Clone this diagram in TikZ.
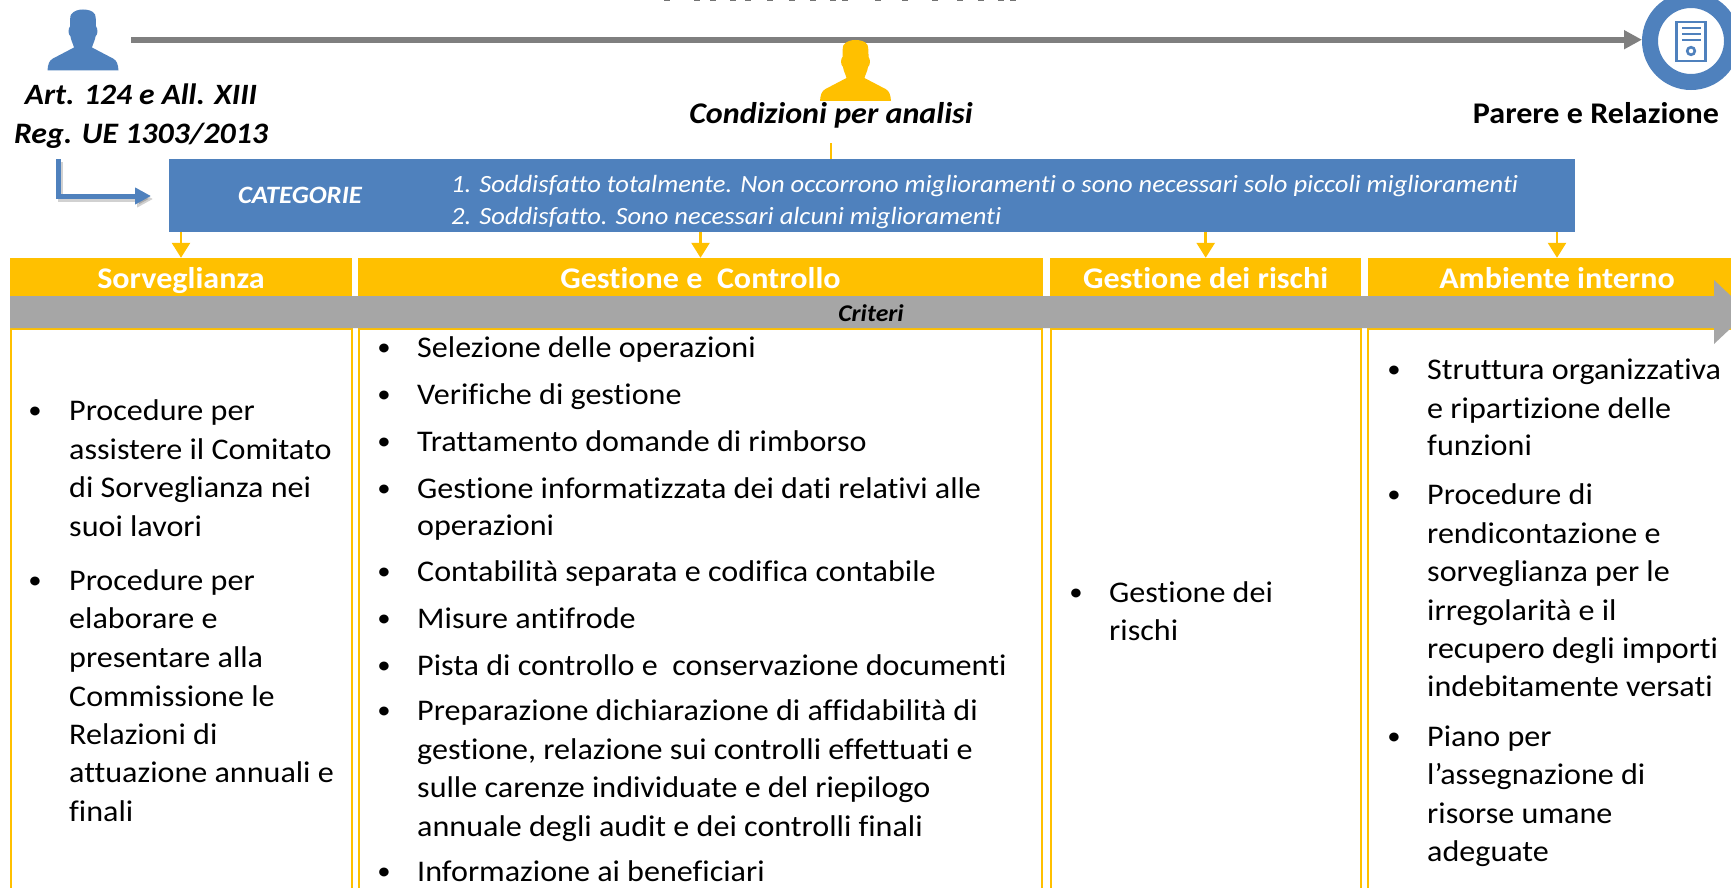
\documentclass[tikz,border=0pt]{standalone}
\usepackage{fontspec}
\setmainfont{Carlito}[FakeStretch=1.07,Ligatures=NoCommon]
\usetikzlibrary{arrows.meta,calc}
\definecolor{bluefill}{HTML}{4F81BD}
\definecolor{orangefill}{HTML}{FFC000}
\definecolor{barfill}{HTML}{A6A6A6}
\definecolor{linegray}{HTML}{7F7F7F}
\newcommand{\bodysize}{\fontsize{30}{36}\selectfont}
\tikzset{
  x=1pt,y=-1pt,
  headbox/.style={fill=orangefill,inner sep=0pt,minimum height=38pt,text height=29pt,text depth=7pt,text=white,font=\fontsize{30}{34}\selectfont\bfseries},
  columnline/.style={draw=orangefill,line width=2pt},
  bodytext/.style={anchor=base west,inner sep=0pt,font=\bodysize,text=black},
  bullettext/.style={anchor=base,inner sep=0pt,font=\fontsize{25}{28}\selectfont,text=black,yshift=2pt},
  toplabel/.style={anchor=base,inner sep=0pt,font=\fontsize{30}{34}\selectfont\bfseries\itshape,text=black},
  feed/.style={draw=orangefill,line width=2.6pt,-{Triangle[length=15pt,width=18pt]}},
  person/.pic={
    \fill[pic actions] (-35.5,61) .. controls (-35,55) and (-34,51) .. (-30,49)
      -- (-9,38) .. controls (-10,34) and (-12,31) .. (-12.5,27)
      .. controls (-15,25) and (-15,19) .. (-13,17)
      .. controls (-13,12) and (-13,7) .. (-12,5)
      .. controls (-9,1) and (-4,0) .. (0,0)
      .. controls (4,0) and (10,1) .. (12,5)
      .. controls (13,8) and (13,12) .. (13,17)
      .. controls (15,19) and (15,25) .. (12.5,27)
      .. controls (12,31) and (10,34) .. (9,38)
      -- (30,49) .. controls (34,51) and (35,55) .. (35.5,61) -- cycle;
  }
}
\begin{document}
\begin{tikzpicture}
\clip (0,0) rectangle (1731,888);
\fill[white] (0,0) rectangle (1731,888);
% clipped remains of the title
\foreach \tx in {667,697,713,733,748,770,792,813,833,845,878,905,935,960,981,1001,1013}
  \fill[black!55] (\tx-3,0) rectangle (\tx+3,1.2);
% column frames
\draw[columnline] (11,328.5) rectangle (352,900);
\draw[columnline] (359,328.5) rectangle (1042,900);
\draw[columnline] (1051,328.5) rectangle (1360.5,900);
\draw[columnline] (1368,328.5) rectangle (1760,900);
% headers
\node[headbox,minimum width=342pt] (h1) at (181,277) {Sorveglianza};
\node[headbox,minimum width=685pt] (h2) at (700.5,277) {Gestione e\ \ Controllo};
\node[headbox,minimum width=311.5pt] (h3) at (1205.7,277) {Gestione dei rischi};
\node[headbox,minimum width=379pt] (h4) at (1557,277) {Ambiente interno};
% criteri arrow
\fill[barfill] (10,296) -- (1714,296) -- (1714,280) -- (1748,312) -- (1714,344) -- (1714,328) -- (10,328) -- cycle;
\node[anchor=base,inner sep=0pt,font=\fontsize{24}{28}\selectfont\bfseries\itshape] (crit) at (871,321) {Criteri};
% category box
\node[fill=bluefill,inner sep=0pt,minimum width=1406pt,minimum height=73pt] (cat) at (872,195.5) {};
\node[anchor=base,inner sep=0pt,text=white,font=\fontsize{25}{28}\selectfont\bfseries\itshape] (catlabel) at (300,203) {CATEGORIE};
\node[anchor=base west,inner sep=0pt,text=white,font=\fontsize{24.8}{28}\selectfont\itshape] (cat1) at (451,192) {1. Soddisfatto totalmente. Non occorrono miglioramenti o sono necessari solo piccoli miglioramenti};
\node[anchor=base west,inner sep=0pt,text=white,font=\fontsize{24.8}{28}\selectfont\itshape] (cat2) at (451,224) {2. Soddisfatto. Sono necessari alcuni miglioramenti};
% feed arrows
\draw[feed] (cat.south -| h1.north) -- (h1.north);
\draw[feed] (cat.south -| h2.north) -- (h2.north);
\draw[feed] (cat.south -| h3.north) -- (h3.north);
\draw[feed] (cat.south -| h4.north) -- (h4.north);
\coordinate (stub) at (831,143);
\draw[draw=orangefill,line width=2.4pt] (stub) -- (stub |- cat.north);
% persons and top line
\coordinate (gstart) at (131,39.7);
\node[circle,draw=bluefill,line width=16pt,fill=white,inner sep=0pt,minimum size=82pt] (doc) at (1691,41) {};
\draw[draw=linegray,line width=6pt,-{Triangle[length=18pt,width=18pt]}] (gstart) -- (gstart -| doc.west);
\pic[fill=bluefill] at (83,9.5) {person};
\pic[fill=orangefill] at (855.5,40) {person};
% document icon
\draw[draw=bluefill,line width=2.6pt] (1676.5,22) rectangle (1705.5,61);
\foreach \ly in {28,34,40}
  \draw[draw=bluefill,line width=2pt] (1682,\ly) -- (1701,\ly);
\draw[draw=bluefill,line width=2.6pt] (1691,51) circle (3.8);
% top labels
\node[toplabel,font=\fontsize{29.5}{34}\selectfont\bfseries\itshape] (art) at (141,105) {Art. 124 e All. XIII};
\node[toplabel,font=\fontsize{29.7}{34}\selectfont\bfseries\itshape] (reg) at (141,143) {Reg. UE 1303/2013};
\node[toplabel] (cond) at (831,124) {Condizioni per analisi};
\node[toplabel,font=\fontsize{30}{34}\selectfont\bfseries] (par) at (1596,124) {Parere e Relazione};
% elbow arrow
\coordinate (ea) at (58,159);
\coordinate (eb) at (58,196);
\coordinate (ec) at (151,196);
\draw[draw=black,opacity=.18,line width=5pt,-{Triangle[length=16pt,width=16pt]}] ($(ea)+(2,3)$) -- ($(eb)+(2,3)$) -- ($(ec)+(2,3)$);
\draw[draw=bluefill,line width=5pt,-{Triangle[length=16pt,width=16pt]}] (ea) -- (eb) -- (ec);
% column 1
\node[bullettext] (b11) at (35,420.4) {•};
\node[bodytext] (s1) at (69,420.4) {Procedure per};
\node[bodytext] (s2) at (69,459) {assistere il Comitato};
\node[bodytext] (s3) at (69,497.5) {di Sorveglianza nei};
\node[bodytext] (s4) at (69,536) {suoi lavori};
\node[bullettext] (b12) at (35,590) {•};
\node[bodytext] (s5) at (69,590) {Procedure per};
\node[bodytext] (s6) at (69,628) {elaborare e};
\node[bodytext] (s7) at (69,667) {presentare alla};
\node[bodytext] (s8) at (69,706) {Commissione le};
\node[bodytext] (s9) at (69,744) {Relazioni di};
\node[bodytext] (s10) at (69,782) {attuazione annuali e};
\node[bodytext] (s11) at (69,821) {finali};
% column 2
\foreach \by/\bn in {357.7/a,404/b,451/c,498/d,581.7/e,628/f,675/g,720.7/h,881.7/i}
  \node[bullettext] (b2\bn) at (384,\by) {•};
\node[bodytext] (g1) at (417,357.7) {Selezione delle operazioni};
\node[bodytext] (g2) at (417,404) {Verifiche di gestione};
\node[bodytext] (g3) at (417,451) {Trattamento domande di rimborso};
\node[bodytext] (g4) at (417,498) {Gestione informatizzata dei dati relativi alle};
\node[bodytext] (g5) at (417,535.7) {operazioni};
\node[bodytext] (g6) at (417,581.7) {Contabilità separata e codifica contabile};
\node[bodytext] (g7) at (417,628) {Misure antifrode};
\node[bodytext] (g8) at (417,675) {Pista di controllo e\ \ conservazione documenti};
\node[bodytext] (g9) at (417,720.7) {Preparazione dichiarazione di affidabilità di};
\node[bodytext] (g10) at (417,759) {gestione, relazione sui controlli effettuati e};
\node[bodytext] (g11) at (417,797) {sulle carenze individuate e del riepilogo};
\node[bodytext] (g12) at (417,836) {annuale degli audit e dei controlli finali};
\node[bodytext] (g13) at (417,881.7) {Informazione ai beneficiari};
% column 3
\node[bullettext] (b31) at (1076,602) {•};
\node[bodytext] (r1) at (1109,602) {Gestione dei};
\node[bodytext] (r2) at (1109,640) {rischi};
% column 4
\foreach \by/\bn in {379.6/a,504.5/b,746/c}
  \node[bullettext] (b4\bn) at (1394,\by) {•};
\node[bodytext] (a1) at (1427,379.6) {Struttura organizzativa};
\node[bodytext] (a2) at (1427,418) {e ripartizione delle};
\node[bodytext] (a3) at (1427,455.5) {funzioni};
\node[bodytext] (a4) at (1427,504.5) {Procedure di};
\node[bodytext] (a5) at (1427,543) {rendicontazione e};
\node[bodytext] (a6) at (1427,581.4) {sorveglianza per le};
\node[bodytext] (a7) at (1427,620) {irregolarità e il};
\node[bodytext] (a8) at (1427,658) {recupero degli importi};
\node[bodytext] (a9) at (1427,696.5) {indebitamente versati};
\node[bodytext] (a10) at (1427,746) {Piano per};
\node[bodytext] (a11) at (1427,784.4) {l’assegnazione di};
\node[bodytext] (a12) at (1427,823) {risorse umane};
\node[bodytext] (a13) at (1427,861) {adeguate};
\end{tikzpicture}
\end{document}
